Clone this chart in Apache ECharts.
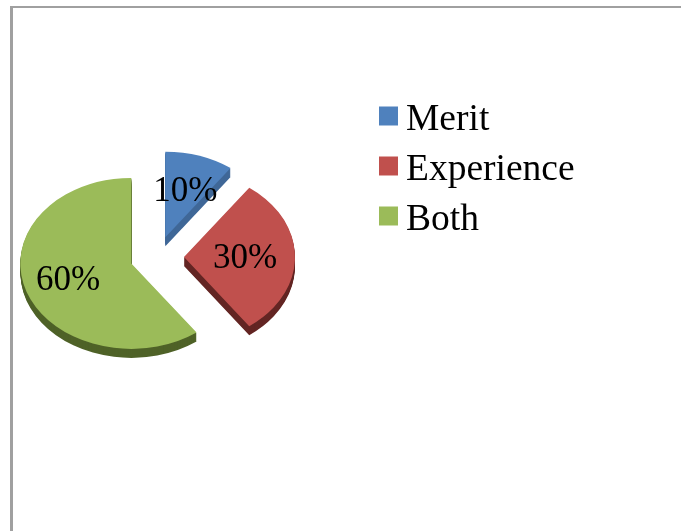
<!DOCTYPE html>
<html>
<head>
<meta charset="utf-8">
<style>html,body{margin:0;padding:0;background:#fff}#chart{width:681px;height:531px}</style>
<script src="https://cdn.jsdelivr.net/npm/echarts@6/dist/echarts.min.js"></script>
</head>
<body>
<div id="chart"></div>
<script>
const categories = ['Merit', 'Experience', 'Both'];
const shares = [10, 30, 60];
const topColors = ['#4f81bd', '#c0504d', '#9bbb59'];
const wallColors = ['#3f6797', '#632523', '#4f6228'];

// Tilted-pie geometry: the disc is flattened vertically and extruded downwards.
const pieCentre = [157, 257];
const pieRadius = 111;
const tilt = 0.77;
const depth = 9;
const explode = 27;
const labelReach = [0.58, 0.55, 0.6];
const labelDrop = 2;

const total = shares.reduce((a, b) => a + b, 0);
const startShare = shares.map((_, i) => shares.slice(0, i).reduce((a, b) => a + b, 0));

function renderSlice(index) {
  return function () {
    const a0 = startShare[index] / total * Math.PI * 2;
    const a1 = (startShare[index] + shares[index]) / total * Math.PI * 2;
    const mid = (a0 + a1) / 2;
    const apexX = pieCentre[0] + explode * Math.sin(mid);
    const apexY = pieCentre[1] - explode * Math.cos(mid) * tilt;
    const sector = (offset, fill) => ({
      type: 'sector',
      x: apexX,
      y: apexY + offset,
      scaleY: tilt,
      shape: {
        cx: 0, cy: 0, r0: 0, r: pieRadius,
        startAngle: a0 - Math.PI / 2,
        endAngle: a1 - Math.PI / 2,
        clockwise: true
      },
      style: { fill: fill }
    });
    const children = [];
    for (let d = depth; d > 0; d--) children.push(sector(d, wallColors[index]));
    children.push(sector(0, topColors[index]));
    const reach = pieRadius * labelReach[index];
    children.push({
      type: 'text',
      x: apexX + reach * Math.sin(mid),
      y: apexY - reach * Math.cos(mid) * tilt + labelDrop,
      z2: 10,
      style: {
        text: shares[index] + '%',
        font: '35px "Liberation Serif"',
        fill: '#000',
        align: 'center',
        verticalAlign: 'middle'
      }
    });
    return { type: 'group', children: children };
  };
}

const chart = echarts.init(document.getElementById('chart'), null, { renderer: 'canvas' });
chart.setOption({
  animation: false,
  backgroundColor: '#fff',
  legend: {
    orient: 'vertical',
    left: 379,
    top: 101,
    icon: 'rect',
    itemWidth: 19,
    itemHeight: 19,
    itemGap: 12,
    selectedMode: false,
    padding: 0,
    data: categories,
    formatter: '{t|{name}}',
    textStyle: {
      color: '#000',
      rich: {
        t: {
          fontFamily: 'Liberation Serif',
          fontSize: 37.5,
          lineHeight: 46,
          verticalAlign: 'bottom',
          padding: [0, 0, 0, 3],
          color: '#000'
        }
      }
    }
  },
  graphic: [
    { type: 'rect', shape: { x: 10, y: 6, width: 3, height: 525 }, style: { fill: '#a0a0a0' } },
    { type: 'rect', shape: { x: 10, y: 6, width: 671, height: 2 }, style: { fill: '#a0a0a0' } }
  ],
  series: categories.map((name, i) => ({
    type: 'custom',
    name: name,
    coordinateSystem: 'none',
    itemStyle: { color: topColors[i] },
    data: [shares[i]],
    renderItem: renderSlice(i)
  }))
});
</script>
</body>
</html>
